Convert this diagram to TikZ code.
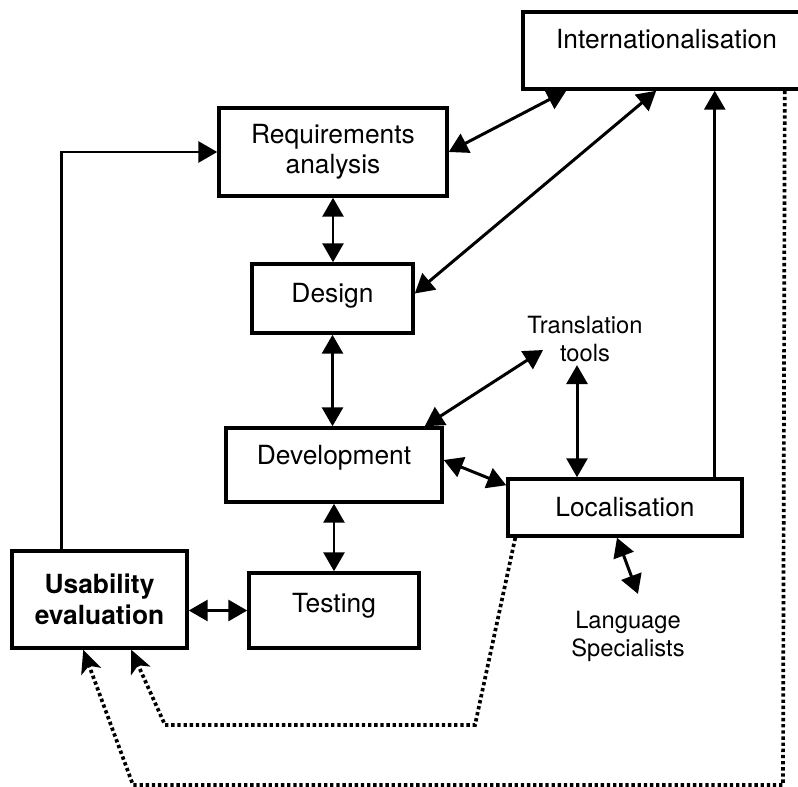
\documentclass[tikz,border=0pt]{standalone}
\usepackage{fontspec}
\setmainfont{TeX Gyre Heros}
\usetikzlibrary{arrows.meta}

\begin{document}
\begin{tikzpicture}[x=0.02cm, y=-0.02cm, >={Triangle[length=3.8mm, width=4.2mm]}, line width=1.7pt, box/.style={draw, line width=2pt, inner sep=0pt, align=center, font=\fontsize{15}{17}\selectfont}, lbl/.style={inner sep=1pt, align=center, font=\fontsize{13.5}{16}\selectfont}, dots/.style={line width=2.1pt, dash pattern=on 1.9pt off 1.6pt, -{Stealth[length=4.6mm, width=4.2mm, inset=1.2mm]}}]
	\useasboundingbox (0,0) rectangle (798,787);
	\node[box, minimum width=5.74cm, minimum height=1.54cm, text depth=13.6pt] (intl) at (666.5,50.5) {Internationalisation};
	\node[box, minimum width=4.56cm, minimum height=1.76cm] (req) at (333,152) {Requirements\\analysis};
	\node[box, minimum width=3.22cm, minimum height=1.38cm, text depth=6.8pt] (design) at (332.5,298.5) {Design};
	\node[box, minimum width=4.32cm, minimum height=1.48cm, text depth=11.4pt] (dev) at (334,465) {Development};
	\node[box, minimum width=4.68cm, minimum height=1.14cm] (loc) at (625,507.5) {Localisation};
	\node[box, minimum width=3.4cm, minimum height=1.5cm, text depth=9pt] (test) at (334,610.5) {Testing};
	\node[box, minimum width=3.5cm, minimum height=1.94cm, font=\fontsize{15}{17.5}\selectfont\bfseries] (usab) at (99.5,599.5) {Usability\\evaluation};
	\node[lbl] (tools) at (585,339) {Translation\\tools};
	\node[lbl] (lang) at (628,636) {Language\\Specialists};
	\coordinate (lup) at ([xshift=-0.58cm]loc.north east);
	\coordinate (tdn) at ([xshift=-0.16cm]tools.south);
	\coordinate (c1) at (475,725);
	\coordinate (c2) at (165,725);
	\coordinate (c3) at (783,785);
	\coordinate (c4) at (133,785);
	% solid links
	\draw[->] ([xshift=-0.77cm]usab.north) |- (req.west);
	\draw[<->] (req.east) -- ([xshift=0.9cm]intl.south west);
	\draw[<->] ([yshift=0.1cm]design.east) -- ([xshift=2.7cm]intl.south west);
	\draw[->] (lup) -- (lup |- intl.south);
	\foreach \a/\b in {req/design, design/dev, dev/test} {\draw[<->] (\a.south) -- (\a.south |- \b.north);}
	\draw[<->] (test.west -| usab.east) -- (test.west);
	\draw[<->] ([xshift=-0.38cm]dev.north east) -- ([shift={(-0.84cm,-0.22cm)}]tools.center);
	\draw[<->] (tdn) -- (tdn |- loc.north);
	\draw[<->] ([yshift=0.1cm]dev.east) -- ([yshift=-0.16cm]loc.north west);
	\draw[<->] ([xshift=-0.16cm]loc.south) -- ([shift={(0.2cm,0.27cm)}]lang.north);
	% dotted feedback
	\draw[dots] ([xshift=0.18cm]loc.south west) -- (c1) -- (c2) -- ([xshift=2.42cm]usab.south west);
	\draw[dots] ([xshift=-0.54cm]intl.south east) -- (c3) -- (c4) -- ([xshift=1.46cm]usab.south west);
\end{tikzpicture}
\end{document}
